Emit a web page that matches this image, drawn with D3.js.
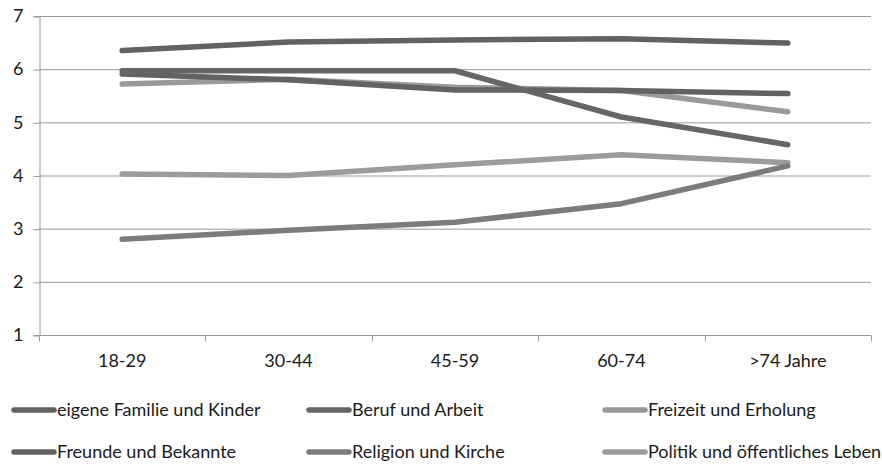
<!DOCTYPE html>
<html>
<head>
<meta charset="utf-8">
<script src="https://cdn.jsdelivr.net/npm/d3@7"></script>
<style>
  body { margin: 0; background: #fff; }
  svg text { font-family: Lato, "Open Sans", sans-serif; fill: #1a1a1a; }
</style>
</head>
<body>
<svg id="chart" width="882" height="464"></svg>
<script>
// Age groups along the x axis
const categories = ["18-29", "30-44", "45-59", "60-74", ">74 Jahre"];
const yTicks = [1, 2, 3, 4, 5, 6, 7];

// Mean importance ratings per life domain
const familie   = [6.35, 6.51, 6.55, 6.57, 6.49];
const beruf     = [5.97, 5.97, 5.97, 5.10, 4.58];
const freizeit  = [5.72, 5.81, 5.66, 5.60, 5.20];
const freunde   = [5.91, 5.80, 5.61, 5.60, 5.54];
const religion  = [2.80, 2.97, 3.12, 3.47, 4.18];
const politik   = [4.03, 4.00, 4.20, 4.39, 4.24];

const seriesNames = [
  "eigene Familie und Kinder", "Beruf und Arbeit", "Freizeit und Erholung",
  "Freunde und Bekannte", "Religion und Kirche", "Politik und öffentliches Leben"
];
const seriesValues = [familie, beruf, freizeit, freunde, religion, politik];
const seriesColors = ["#626262", "#666666", "#9a9a9a", "#626262", "#7c7c7c", "#9c9c9c"];
// drawing order: light lines underneath the dark ones
const drawOrder = [5, 2, 4, 3, 1, 0];

const svg = d3.select("#chart");
const margin = { left: 39, right: 11, top: 16, bottom: 129 };
const width = 882, height = 464;
const fontSize = 18;

const x = d3.scaleBand().domain(categories)
  .range([margin.left, width - margin.right]);
const y = d3.scaleLinear().domain([1, 7])
  .range([height - margin.bottom, margin.top]);

// horizontal gridlines
svg.append("g").selectAll("line").data(yTicks.slice(1)).join("line")
  .attr("x1", margin.left).attr("x2", width - margin.right)
  .attr("y1", d => y(d) + 0.5).attr("y2", d => y(d) + 0.5)
  .attr("stroke", "#9a9a9a").attr("stroke-width", 1);

// y axis
const yAxis = svg.append("g")
  .attr("transform", `translate(${margin.left + 0.5},0)`)
  .call(d3.axisLeft(y).tickValues(yTicks).tickFormat(d3.format("d")).tickSize(6).tickPadding(10));
yAxis.attr("font-family", null).attr("font-size", null);
yAxis.select(".domain").attr("stroke", "#9a9a9a");
yAxis.selectAll(".tick line").attr("stroke", "#9a9a9a").attr("transform", "translate(0,0.5)");
yAxis.selectAll(".tick text").attr("font-size", fontSize).attr("fill", "#1a1a1a");

// x axis with tick marks at band boundaries
const xAxisG = svg.append("g")
  .attr("transform", `translate(0,${y(1) + 0.5})`);
xAxisG.append("line")
  .attr("x1", margin.left).attr("x2", width - margin.right)
  .attr("stroke", "#9a9a9a");
const boundaries = categories.map(c => x(c)).concat([x(categories[categories.length - 1]) + x.bandwidth()]);
xAxisG.selectAll(".bt").data(boundaries).join("line")
  .attr("class", "bt")
  .attr("x1", d => Math.round(d) + 0.5).attr("x2", d => Math.round(d) + 0.5)
  .attr("y1", 0).attr("y2", 6)
  .attr("stroke", "#9a9a9a");
xAxisG.selectAll("text").data(categories).join("text")
  .attr("x", d => x(d) + x.bandwidth() / 2)
  .attr("y", 31)
  .attr("text-anchor", "middle")
  .attr("font-size", fontSize)
  .text(d => d);

// series lines
const line = d3.line()
  .x((d, i) => x(categories[i]) + x.bandwidth() / 2)
  .y(d => y(d));

svg.append("g").selectAll("path").data(drawOrder).join("path")
  .attr("d", k => line(seriesValues[k]))
  .attr("fill", "none")
  .attr("stroke", k => seriesColors[k])
  .attr("stroke-width", 5.5)
  .attr("stroke-linecap", "round")
  .attr("stroke-linejoin", "round");

// legend: three columns, two rows
const legendCols = [14, 309, 605];
const legendRows = [410, 452];
const legend = svg.append("g");
seriesNames.forEach((name, i) => {
  const cx = legendCols[i % 3], cy = legendRows[Math.floor(i / 3)];
  legend.append("line")
    .attr("x1", cx).attr("x2", cx + 40)
    .attr("y1", cy).attr("y2", cy)
    .attr("stroke", seriesColors[i])
    .attr("stroke-width", 5.5)
    .attr("stroke-linecap", "round");
  legend.append("text")
    .attr("x", cx + 43).attr("y", cy + 6)
    .attr("font-size", fontSize)
    .text(name);
});
</script>
</body>
</html>
